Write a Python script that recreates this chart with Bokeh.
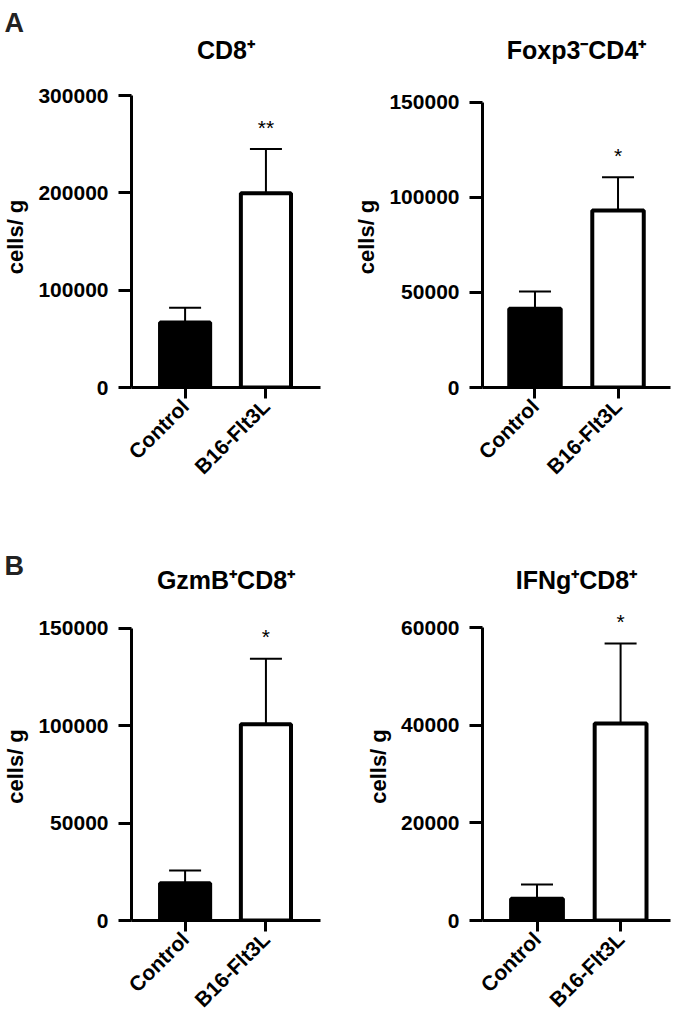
import math
from bokeh.plotting import figure
from bokeh.models import (FixedTicker, BasicTickFormatter, Whisker, TeeHead,
                          ColumnDataSource, Title, Range1d)
from bokeh.layouts import column, row
from bokeh.embed import file_html
from bokeh.resources import INLINE
from bokeh.core.properties import value

# ---------------- data ----------------
categories = ["Control", "B16-Flt3L"]
positions = [1, 2]

cd8_mean = [66800, 199500]
cd8_sem = [15200, 45500]
cd8_sig = ["", "**"]
cd8_ticks = [0, 100000, 200000, 300000]

foxp3_mean = [41400, 93000]
foxp3_sem = [9100, 17500]
foxp3_sig = ["", "*"]
foxp3_ticks = [0, 50000, 100000, 150000]

gzmb_mean = [19100, 100700]
gzmb_sem = [6600, 33600]
gzmb_sig = ["", "*"]
gzmb_ticks = [0, 50000, 100000, 150000]

ifng_mean = [4450, 40400]
ifng_sem = [2950, 16400]
ifng_sig = ["", "*"]
ifng_ticks = [0, 20000, 40000, 60000]

titles = ["CD8\u207a", "Foxp3\u207bCD4\u207a", "GzmB\u207aCD8\u207a", "IFNg\u207aCD8\u207a"]
y_label = "cells/ g"
panel_letters = ["A", "B"]

FONT = "Liberation Sans"


def style_title(t, size, color="black"):
    t.text_font = FONT
    t.text_font_size = size
    t.text_font_style = "bold"
    t.text_color = color


def make_panel(title, means, sems, sig, ticks, width, height, mb_left, mb_right,
               mb_top, mb_bottom, axis_px, xr, title_standoff, title_offset=0,
               letter=None, letter_offset=0, letter_standoff=0):
    frame_h = height - mb_top - mb_bottom
    y_end = ticks[-1] * frame_h / axis_px
    p = figure(width=width, height=height, output_backend="svg",
               toolbar_location=None, tools="",
               x_range=Range1d(*xr), y_range=Range1d(0, y_end),
               min_border_left=mb_left, min_border_right=mb_right,
               min_border_top=mb_top, min_border_bottom=mb_bottom)
    p.outline_line_color = None
    p.background_fill_color = "white"
    p.border_fill_color = "white"
    p.xgrid.visible = False
    p.ygrid.visible = False

    src = ColumnDataSource(dict(
        x=positions, mean=means,
        upper=[m + s for m, s in zip(means, sems)],
        sig=sig,
        fill=["black", "white"],
    ))
    p.vbar(x="x", top="mean", bottom=0, width=0.62, source=src,
           fill_color="fill", line_color="black", line_width=4)
    w = Whisker(source=src, base="x", lower="mean", upper="upper",
                line_width=2, line_color="black",
                upper_head=TeeHead(size=32, line_width=2, line_color="black"),
                lower_head=None)
    p.add_layout(w)
    p.text(x="x", y="upper", text="sig", source=src, text_align="center",
           text_baseline="alphabetic", y_offset=-22, text_font_size="21px",
           text_font=value(FONT), text_color="black")

    # titles: the panel letter (outer) and the chart title (next to the plot)
    if letter is not None:
        p.title.text = letter
        p.title.align = "left"
        p.title.offset = letter_offset
        p.title.standoff = letter_standoff
        style_title(p.title, "27px", "#222222")
        main = Title(text=title, align="center", offset=title_offset,
                     standoff=title_standoff)
        style_title(main, "25px")
        p.add_layout(main, "above")
    else:
        p.title.text = title
        p.title.align = "center"
        p.title.offset = title_offset
        p.title.standoff = title_standoff
        style_title(p.title, "25px")

    # y axis
    ya = p.yaxis[0]
    ya.ticker = FixedTicker(ticks=ticks)
    ya.formatter = BasicTickFormatter(use_scientific=False)
    ya.bounds = (0, ticks[-1])
    ya.axis_line_width = 3
    ya.major_tick_line_width = 3
    ya.major_tick_out = 13
    ya.major_tick_in = 0
    ya.minor_tick_line_color = None
    ya.major_label_text_font = FONT
    ya.major_label_text_font_size = "21px"
    ya.major_label_text_font_style = "bold"
    ya.major_label_text_color = "black"
    ya.major_label_standoff = 10
    ya.axis_label = y_label
    ya.axis_label_text_font = FONT
    ya.axis_label_text_font_size = "22px"
    ya.axis_label_text_font_style = "bold"
    ya.axis_label_text_color = "black"
    ya.axis_label_standoff = 7

    # x axis
    xa = p.xaxis[0]
    xa.ticker = FixedTicker(ticks=positions)
    xa.major_label_overrides = {pos: cat for pos, cat in zip(positions, categories)}
    xa.major_label_orientation = math.pi / 4
    xa.axis_line_width = 3
    xa.major_tick_line_width = 3
    xa.major_tick_out = 11
    xa.major_tick_in = 0
    xa.minor_tick_line_color = None
    xa.major_label_text_font = FONT
    xa.major_label_text_font_size = "21px"
    xa.major_label_text_font_style = "bold"
    xa.major_label_text_color = "black"
    xa.major_label_standoff = 4
    return p


pA1 = make_panel(titles[0], cd8_mean, cd8_sem, cd8_sig, cd8_ticks,
                 338, 518, 126, 18, 86, 131, 292, (0.337, 2.675), 46, -4,
                 panel_letters[0], -127, -54)
pA2 = make_panel(titles[1], foxp3_mean, foxp3_sem, foxp3_sig, foxp3_ticks,
                 339, 518, 144, 7, 86, 131, 285.3, (0.368, 2.632), 46)
pB1 = make_panel(titles[2], gzmb_mean, gzmb_sem, gzmb_sig, gzmb_ticks,
                 338, 518, 126, 18, 94, 116, 292.3, (0.337, 2.675), 38, -2,
                 panel_letters[1], -127, -72)
pB2 = make_panel(titles[3], ifng_mean, ifng_sem, ifng_sig, ifng_ticks,
                 339, 518, 144, 7, 94, 116, 292.7, (0.348, 2.597), 38)

layout = column(row(pA1, pA2), row(pB1, pB2))
open("out.html", "w").write(file_html(layout, INLINE))
